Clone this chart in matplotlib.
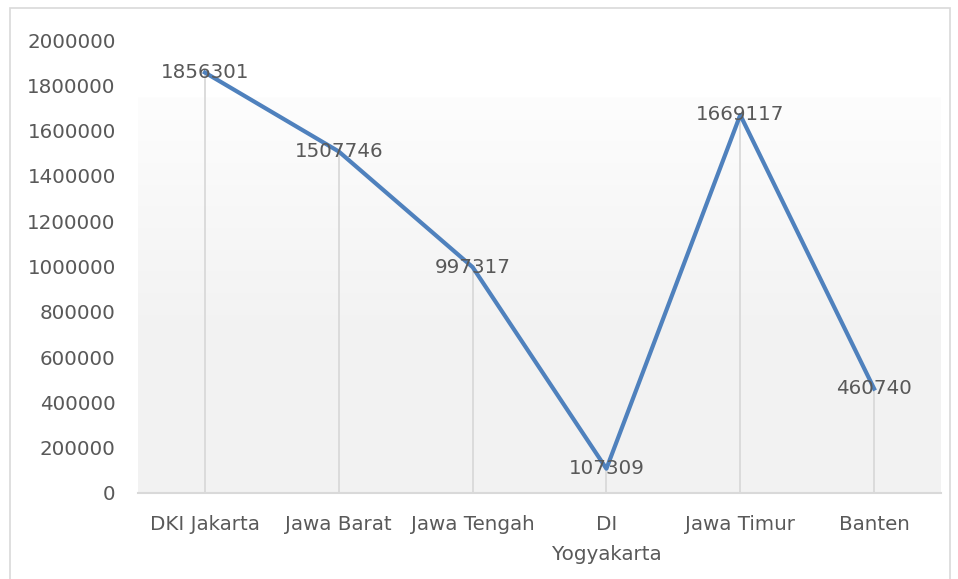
import numpy as np
import matplotlib.pyplot as plt
from matplotlib.colors import LinearSegmentedColormap
from matplotlib.patches import Rectangle

provinces = ["DKI Jakarta", "Jawa Barat", "Jawa Tengah", "DI\nYogyakarta", "Jawa Timur", "Banten"]
values = [1856301, 1507746, 997317, 107309, 1669117, 460740]
yticks = [0, 200000, 400000, 600000, 800000, 1000000, 1200000, 1400000, 1600000, 1800000, 2000000]

text_color = "#595959"
line_color = "#4f81bd"
grid_color = "#d9d9d9"
fs = 14.3

fig = plt.figure(figsize=(9.58, 5.79), dpi=100)
ax = fig.add_axes([138 / 958, 1 - 493 / 579, (941 - 138) / 958, (493 - 40) / 579])

# outer chart border
fig.patches.append(Rectangle((10 / 958, -0.05), (950 - 10) / 958, 1 - 8 / 579 + 0.05,
                             transform=fig.transFigure, fill=False,
                             edgecolor="#d9d9d9", linewidth=1.2))

x = np.arange(len(provinces))

# plot-area gradient fill
cmap = LinearSegmentedColormap.from_list("bg", [(0, "#f2f2f2"), (0.45, "#f3f3f3"), (1, "#fdfdfd")])
grad = np.linspace(0, 1, 256).reshape(-1, 1)
ax.imshow(grad, aspect="auto", cmap=cmap, origin="lower",
          extent=[-0.5, 5.5, 0, 1745000], zorder=0, vmin=0, vmax=1)

# drop lines
ax.vlines(x, 0, values, color=grid_color, linewidth=1.3, zorder=1)

ax.plot(x, values, color=line_color, linewidth=3, zorder=3, solid_joinstyle="round")

for xi, v in zip(x, values):
    ax.text(xi, v, str(v), ha="center", va="center", fontsize=fs, color=text_color, zorder=4)

ax.set_xlim(-0.5, 5.5)
ax.set_ylim(0, 2000000)
ax.set_yticks(yticks)
ax.set_yticklabels([str(t) for t in yticks])
ax.set_xticks(x)
ax.set_xticklabels(provinces, linespacing=1.7)
ax.tick_params(axis="y", length=0, pad=16, labelsize=fs, labelcolor=text_color)
ax.tick_params(axis="x", length=0, pad=16, labelsize=fs, labelcolor=text_color)

for s in ["left", "right", "top"]:
    ax.spines[s].set_visible(False)
ax.spines["bottom"].set_color(grid_color)
ax.spines["bottom"].set_linewidth(1.5)
ax.set_facecolor("white")

fig.savefig("out.png", dpi=100)
